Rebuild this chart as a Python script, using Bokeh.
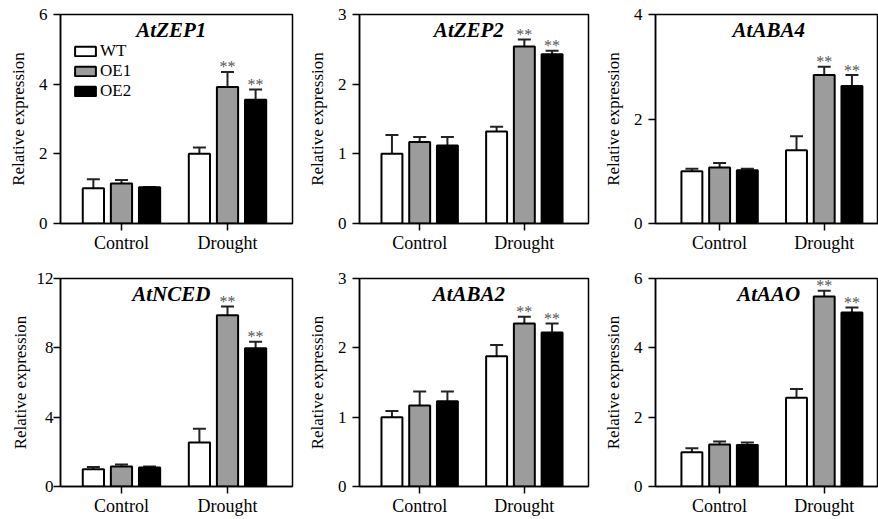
import numpy as np
from bokeh.plotting import figure
from bokeh.models import (Range1d, FixedTicker, Legend, LegendItem, Whisker,
                          ColumnDataSource, TeeHead, Label)
from bokeh.layouts import column, row
from bokeh.embed import file_html
from bokeh.resources import INLINE
from bokeh.core.properties import value

# ---------------- data ----------------
groups = ["Control", "Drought"]
genotypes = ["WT", "OE1", "OE2"]
genes = ["AtZEP1", "AtZEP2", "AtABA4", "AtNCED", "AtABA2", "AtAAO"]
y_max = [6, 3, 4, 12, 3, 6]
y_ticks = [[0, 2, 4, 6], [0, 1, 2, 3], [0, 2, 4], [0, 4, 8, 12], [0, 1, 2, 3], [0, 2, 4, 6]]

# rows: WT, OE1, OE2 ; columns: Control, Drought
zep1_mean = [[1.01, 2.00], [1.15, 3.92], [1.04, 3.55]]
zep1_err = [[0.26, 0.18], [0.10, 0.43], [0.01, 0.30]]
zep2_mean = [[1.00, 1.32], [1.17, 2.54], [1.12, 2.43]]
zep2_err = [[0.27, 0.07], [0.07, 0.10], [0.12, 0.05]]
aba4_mean = [[1.00, 1.40], [1.07, 2.84], [1.02, 2.63]]
aba4_err = [[0.05, 0.27], [0.09, 0.16], [0.03, 0.21]]
nced_mean = [[1.00, 2.54], [1.15, 9.88], [1.10, 7.98]]
nced_err = [[0.12, 0.79], [0.12, 0.50], [0.05, 0.37]]
aba2_mean = [[1.00, 1.88], [1.17, 2.35], [1.23, 2.22]]
aba2_err = [[0.09, 0.16], [0.20, 0.10], [0.14, 0.13]]
aao_mean = [[0.99, 2.56], [1.21, 5.48], [1.20, 5.02]]
aao_err = [[0.11, 0.25], [0.09, 0.17], [0.07, 0.14]]

significance = [["", ""], ["", "**"], ["", "**"]]

means = [zep1_mean, zep2_mean, aba4_mean, nced_mean, aba2_mean, aao_mean]
errs = [zep1_err, zep2_err, aba4_err, nced_err, aba2_err, aao_err]

# ---------------- style ----------------
FONT = "'Liberation Serif', 'Times New Roman', serif"
fills = ["white", "#9c9c9c", "black"]
offsets = [-0.265, 0.0, 0.265]
BAR_W = 0.2


def make_panel(i, width, height, x_start, x_end, mb_left, mb_top, mb_bottom, mb_right,
               tick_standoff, label_standoff, legend=False):
    p = figure(width=width, height=height, output_backend="svg", toolbar_location=None,
               x_range=Range1d(x_start, x_end), y_range=Range1d(0, y_max[i]),
               min_border_left=mb_left, min_border_right=mb_right,
               min_border_top=mb_top, min_border_bottom=mb_bottom,
               background_fill_color="white", border_fill_color="white")
    p.outline_line_color = "black"
    p.outline_line_width = 1.5
    p.grid.visible = False

    idx = np.arange(len(groups))
    items = []
    for g in range(len(genotypes)):
        xs = idx + offsets[g]
        top = np.array(means[i][g])
        up = top + np.array(errs[i][g])
        src = ColumnDataSource(dict(x=xs, top=top, up=up, sig=significance[g]))
        r = p.vbar(x="x", top="top", bottom=0, width=BAR_W, source=src,
                   fill_color=fills[g], line_color="black", line_width=2)
        items.append(LegendItem(label=genotypes[g], renderers=[r]))
        w = Whisker(base="x", lower="top", upper="up", source=src,
                    line_color="#222222", line_width=2, lower_head=None,
                    upper_head=TeeHead(size=13, line_color="#222222", line_width=2))
        p.add_layout(w)
        p.text(x="x", y="up", text="sig", source=src, text_align="center",
               text_baseline="alphabetic", y_offset=-5,
               text_font=value(FONT), text_font_size="16px", text_color="#555555")

    p.add_layout(Label(x=0.47, y=y_max[i] * 0.925, text=genes[i], text_align="center",
                       text_baseline="alphabetic", text_font=FONT,
                       text_font_style="bold italic", text_font_size="21px",
                       text_color="black"))

    # x axis
    xa = p.xaxis[0]
    xa.ticker = FixedTicker(ticks=list(idx))
    xa.major_label_overrides = {int(k): groups[k] for k in idx}
    xa.minor_tick_line_color = None
    xa.major_tick_out = 7
    xa.major_tick_in = 0
    xa.major_label_standoff = 2
    xa.axis_line_width = 1.5
    xa.major_tick_line_width = 1.5
    xa.major_label_text_font = FONT
    xa.major_label_text_font_size = "18px"
    xa.major_label_text_color = "black"

    # y axis
    ya = p.yaxis[0]
    ya.ticker = FixedTicker(ticks=y_ticks[i])
    ya.minor_tick_line_color = None
    ya.major_tick_out = 7
    ya.major_tick_in = 0
    ya.major_label_standoff = tick_standoff
    ya.axis_line_width = 1.5
    ya.major_tick_line_width = 1.5
    ya.major_label_text_font = FONT
    ya.major_label_text_font_size = "17px"
    ya.major_label_text_color = "black"
    ya.axis_label = "Relative expression"
    ya.axis_label_text_font = FONT
    ya.axis_label_text_font_style = "normal"
    ya.axis_label_text_font_size = "17px"
    ya.axis_label_text_color = "black"
    ya.axis_label_standoff = label_standoff

    if legend:
        lg = Legend(items=items, location=(12, 122), glyph_width=26, glyph_height=12,
                    label_height=16, label_standoff=2, spacing=0, padding=0, margin=0,
                    border_line_color=None, background_fill_alpha=0,
                    label_text_font=FONT, label_text_font_size="17px",
                    label_text_color="black")
        p.add_layout(lg, "center")
    return p


TOP_H, BOT_H = 268, 251
p1 = make_panel(0, 304, TOP_H, -0.575, 1.613, 60, 14, 45, 12, 6, 8, legend=True)
p2 = make_panel(1, 296, TOP_H, -0.575, 1.613, 52, 14, 45, 12, 6, 8)
p3 = make_panel(2, 278, TOP_H, -0.613, 1.519, 52, 14, 45, 0, 6, 8)
p4 = make_panel(3, 304, BOT_H, -0.575, 1.613, 60, 10, 33, 12, 0, 4)
p5 = make_panel(4, 296, BOT_H, -0.575, 1.613, 52, 10, 33, 12, 6, 8)
p6 = make_panel(5, 278, BOT_H, -0.613, 1.519, 52, 10, 33, 0, 6, 8)

layout = column(row(p1, p2, p3), row(p4, p5, p6))
open("out.html", "w").write(file_html(layout, INLINE))
